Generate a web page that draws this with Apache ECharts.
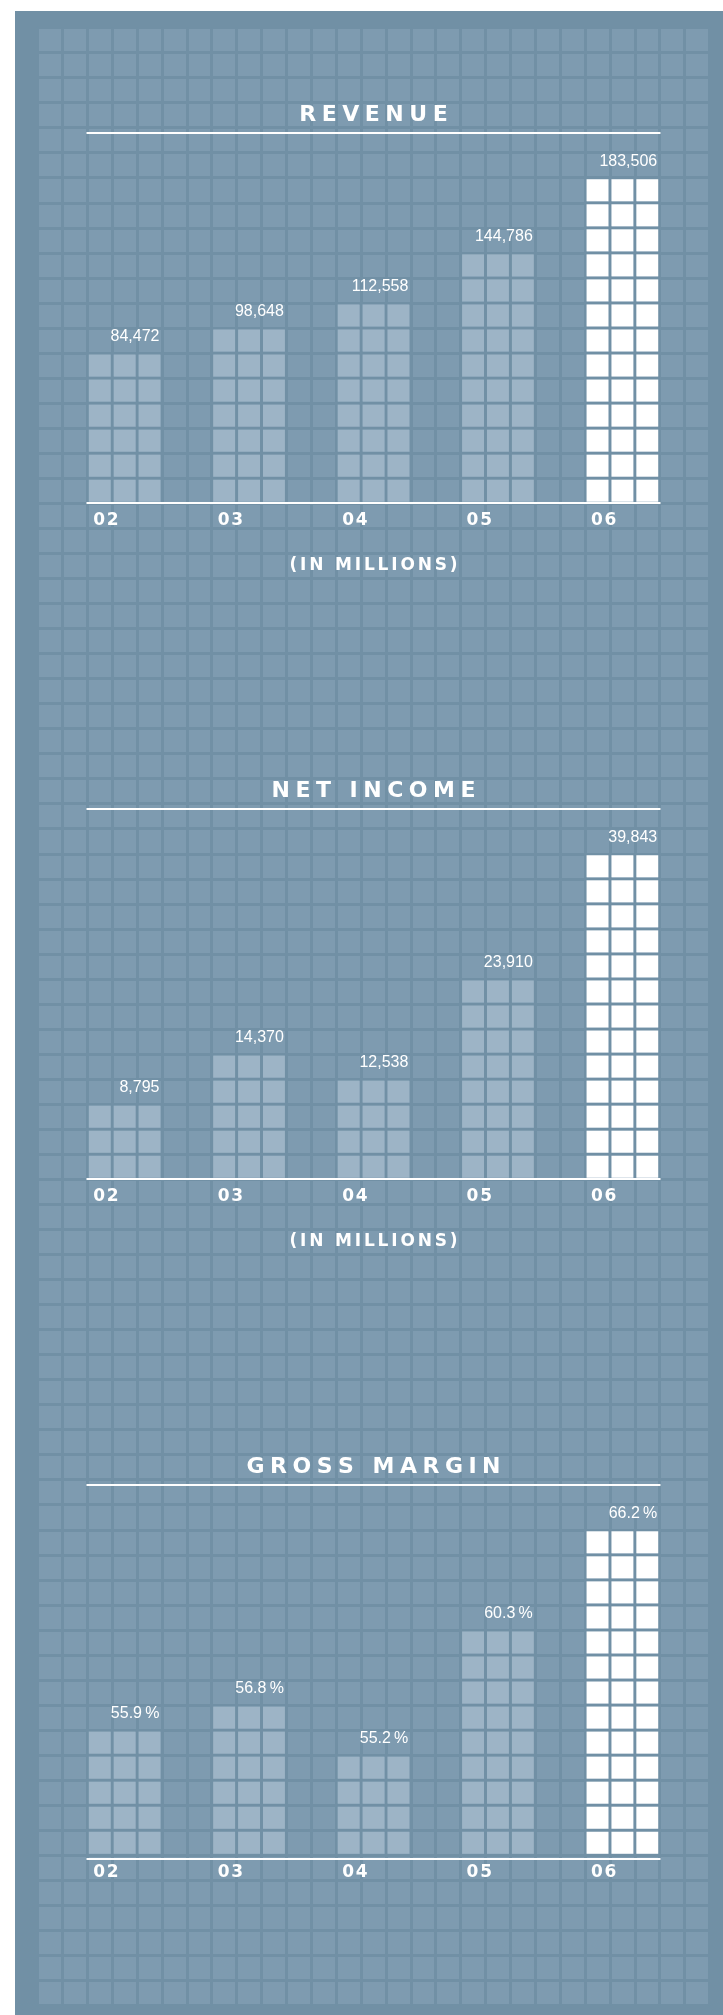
<!DOCTYPE html>
<html>
<head>
<meta charset="utf-8">
<title>Revenue / Net Income / Gross Margin</title>
<script src="https://cdn.jsdelivr.net/npm/echarts@6/dist/echarts.min.js"></script>
<style>
  html, body { margin: 0; padding: 0; background: #fff; }
  #main { position: absolute; left: 15px; top: 11px; width: 708px; height: 2004px; }
</style>
</head>
<body>
<div id="main"></div>
<script>
const years = ['02', '03', '04', '05', '06'];
const revenue = [84472, 98648, 112558, 144786, 183506];
const netIncome = [8795, 14370, 12538, 23910, 39843];
const grossMargin = [55.9, 56.8, 55.2, 60.3, 66.2];

const DARK = '#7190a5';
const CELL = '#7e9bb0';
const BAR = '#9db4c6';
const HILITE = '#ffffff';

// tile layout of the panel (px inside #main)
const COLS = 27, ROWS = 79;
const GRID_X = 22.5, GRID_Y = 16.5;
const TILE_W = 672 / COLS, TILE_H = 1978 / ROWS;
const GAP = 3;
const CAT_COLS = 5, BAR_COLS = 3;   // one year = 5 tile columns, bar = 3 of them
const CHART_ROWS = 14;

const spaced = (s, sep) => s.split('').join(sep);
const thousands = v => v.toLocaleString('en-US');

const charts = [
  { title: 'REVENUE', note: '(IN MILLIONS)', data: revenue, min: 0, step: 14000, row: 5, fmt: thousands },
  { title: 'NET INCOME', note: '(IN MILLIONS)', data: netIncome, min: 0, step: 3000, row: 32, fmt: thousands },
  { title: 'GROSS MARGIN', note: '', data: grossMargin, min: 49.6, step: 1.25, row: 59, fmt: v => v.toFixed(1) + '\u2009%' }
];

const white = { color: '#fff', fontFamily: 'DejaVu Sans', fontWeight: 'bold' };

const grid = [{
  left: GRID_X, top: GRID_Y, width: COLS * TILE_W, height: ROWS * TILE_H,
  show: true, backgroundColor: CELL, borderWidth: 0, outerBoundsMode: 'none'
}];
const xAxis = [{
  type: 'value', gridIndex: 0, min: 0, max: COLS, interval: 1,
  axisLine: { show: false }, axisTick: { show: false }, axisLabel: { show: false },
  splitLine: { show: true, lineStyle: { color: DARK, width: GAP } }
}];
const yAxis = [{
  type: 'value', gridIndex: 0, min: 0, max: ROWS, interval: 1,
  axisLine: { show: false }, axisTick: { show: false }, axisLabel: { show: false },
  splitLine: { show: true, lineStyle: { color: DARK, width: GAP } }
}];
const series = [];

charts.forEach((c, k) => {
  const g = k + 1;
  const xMax = (COLS - 4) / CAT_COLS;
  grid.push({
    left: GRID_X + 2 * TILE_W, top: GRID_Y + c.row * TILE_H,
    width: (COLS - 4) * TILE_W, height: CHART_ROWS * TILE_H,
    outerBoundsMode: 'none'
  });
  // bottom axis: base line, year labels, note
  xAxis.push({
    type: 'value', gridIndex: g, min: 0, max: xMax, interval: 1, position: 'bottom', offset: 3, z: 5,
    axisLine: { lineStyle: { color: '#fff', width: 2 } },
    axisTick: { show: false }, splitLine: { show: false },
    axisLabel: {
      formatter: v => years[v] ? spaced(years[v], '\u200a') : '',
      showMaxLabel: false, align: 'left', padding: [0, 0, 0, 6], margin: 6,
      fontSize: 17, ...white
    },
    name: spaced(c.note, '\u2006'), nameLocation: 'middle', nameGap: 51,
    nameTextStyle: { fontSize: 17, ...white }
  });
  // top axis: title and its rule
  xAxis.push({
    type: 'value', gridIndex: g, min: 0, max: xMax, position: 'top', offset: 20, z: 5,
    axisLine: { lineStyle: { color: '#fff', width: 2 } },
    axisTick: { show: false }, splitLine: { show: false }, axisLabel: { show: false },
    name: spaced(c.title, '\u2005'), nameLocation: 'middle', nameGap: 6,
    nameTextStyle: { fontSize: 22, ...white }
  });
  yAxis.push({
    type: 'value', gridIndex: g, min: c.min, max: c.min + CHART_ROWS * c.step, show: false
  });
  series.push({
    type: 'custom',
    xAxisIndex: 2 * k + 1, yAxisIndex: g, z: 10,
    data: c.data.map((v, i) => [i, v]),
    renderItem: (params, api) => {
      const i = api.value(0), v = api.value(1);
      const n = Math.round((v - c.min) / c.step);
      const fill = i === years.length - 1 ? HILITE : BAR;
      const children = [];
      for (let r = 0; r < n; r++) {
        for (let col = 0; col < BAR_COLS; col++) {
          const p0 = api.coord([i + col / CAT_COLS, c.min + (r + 1) * c.step]);
          const p1 = api.coord([i + (col + 1) / CAT_COLS, c.min + r * c.step]);
          children.push({
            type: 'rect',
            shape: { x: p0[0] + GAP / 2, y: p0[1] + GAP / 2, width: p1[0] - p0[0] - GAP, height: p1[1] - p0[1] - GAP },
            style: { fill: fill }
          });
        }
      }
      const right = api.coord([i + BAR_COLS / CAT_COLS, c.min])[0] - GAP / 2 - 1;
      const top = api.coord([i, c.min + n * c.step])[1] + GAP / 2;
      children.push({
        type: 'text', x: right, y: top - 18,
        style: { text: c.fmt(v), fill: '#fff', fontSize: 16, fontFamily: 'Liberation Sans', align: 'right', verticalAlign: 'middle' }
      });
      return { type: 'group', children: children };
    }
  });
});

const chart = echarts.init(document.getElementById('main'));
chart.setOption({
  backgroundColor: DARK,
  animation: false,
  grid, xAxis, yAxis, series
});
</script>
</body>
</html>
